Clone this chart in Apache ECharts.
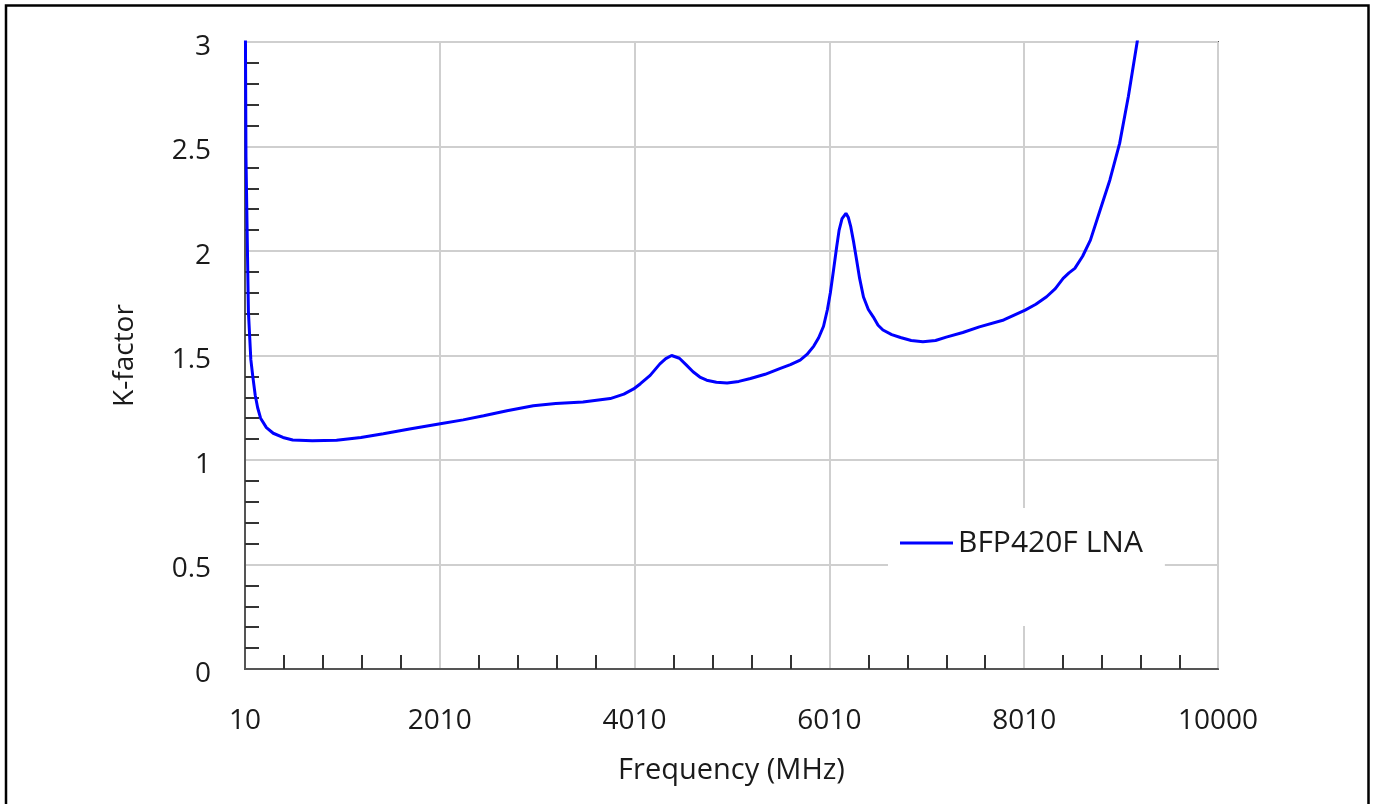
<!DOCTYPE html>
<html>
<head>
<meta charset="utf-8">
<script src="https://cdn.jsdelivr.net/npm/echarts@6/dist/echarts.min.js"></script>
<style>
html,body{margin:0;padding:0;background:#fff;}
#chart{width:1375px;height:804px;}
</style>
</head>
<body>
<div id="chart"></div>
<script>
const seriesName = 'BFP420F LNA';
const xAxisName = 'Frequency (MHz)';
const yAxisName = 'K-factor';

const freq = [10, 20, 45, 70, 90, 115, 140, 170, 230, 300, 400, 500, 700, 950, 1200, 1430, 1700, 2000, 2250, 2460, 2700, 2970, 3200, 3480, 3760, 3900, 4000, 4070, 4170, 4270, 4330, 4390, 4470, 4540, 4610, 4680, 4750, 4850, 4960, 5080, 5200, 5350, 5500, 5610, 5710, 5780, 5850, 5900, 5950, 5990, 6020, 6050, 6085, 6110, 6140, 6180, 6205, 6230, 6260, 6290, 6320, 6360, 6410, 6460, 6510, 6560, 6650, 6740, 6850, 6970, 7100, 7210, 7380, 7550, 7800, 8020, 8130, 8240, 8330, 8410, 8470, 8530, 8610, 8690, 8790, 8890, 8990, 9080, 9170, 9250];

const kFactor = [3.5, 2.45, 1.71, 1.48, 1.40, 1.31, 1.25, 1.20, 1.155, 1.128, 1.108, 1.096, 1.092, 1.094, 1.108, 1.126, 1.148, 1.172, 1.192, 1.212, 1.236, 1.26, 1.27, 1.278, 1.294, 1.315, 1.34, 1.365, 1.405, 1.46, 1.485, 1.50, 1.487, 1.455, 1.422, 1.397, 1.382, 1.372, 1.368, 1.376, 1.39, 1.41, 1.437, 1.456, 1.478, 1.505, 1.545, 1.585, 1.64, 1.72, 1.80, 1.90, 2.02, 2.10, 2.155, 2.18, 2.16, 2.115, 2.04, 1.956, 1.87, 1.78, 1.72, 1.685, 1.645, 1.622, 1.60, 1.586, 1.572, 1.566, 1.572, 1.588, 1.61, 1.637, 1.67, 1.717, 1.745, 1.781, 1.82, 1.869, 1.895, 1.917, 1.975, 2.052, 2.196, 2.34, 2.515, 2.74, 3.0, 3.25];

const xMin = 10, xMax = 10000, xInterval = 2000;
const yMin = 0, yMax = 3, yInterval = 0.5;

const data = freq.map((f, i) => [f, kFactor[i]]);

const FONT = '"Open Sans", "Noto Sans", sans-serif';
const TXT = '#1a1a1a';

const chart = echarts.init(document.getElementById('chart'), null, {renderer: 'canvas'});
chart.setOption({
  animation: false,
  backgroundColor: '#fff',
  textStyle: {fontFamily: FONT},
  graphic: [{
    type: 'rect',
    silent: true,
    shape: {x: 6, y: 5.5, width: 1362.5, height: 900},
    style: {fill: 'none', stroke: '#000', lineWidth: 2.5},
    z: 100
  }],
  grid: {
    left: 245, top: 42, right: 157, bottom: 135,
    show: true, borderColor: '#555', borderWidth: 2, backgroundColor: 'transparent'
  },
  legend: {
    left: 888, top: 508,
    padding: [20, 22, 68, 12],
    backgroundColor: '#fff',
    itemWidth: 53, itemHeight: 14,
    icon: 'path://M0,6 L53,6 L53,9 L0,9 Z',
    textStyle: {fontFamily: FONT, fontSize: 30, color: TXT},
    data: [seriesName]
  },
  xAxis: {
    type: 'value', min: xMin, max: xMax, interval: xInterval,
    name: xAxisName, nameLocation: 'middle', nameGap: 87,
    nameTextStyle: {fontFamily: FONT, fontSize: 29, color: TXT},
    axisLine: {show: true, lineStyle: {color: '#555', width: 2}},
    axisTick: {show: false, inside: true},
    minorTick: {show: true, splitNumber: 5, length: 14, lineStyle: {color: '#333', width: 2}},
    axisLabel: {fontFamily: FONT, fontSize: 28, color: TXT, margin: 38,
      showMinLabel: true, showMaxLabel: true,
      formatter: function (v) { return String(v); }},
    splitLine: {show: true, lineStyle: {color: '#cfcfcf', width: 2}}
  },
  yAxis: {
    type: 'value', min: yMin, max: yMax, interval: yInterval,
    name: yAxisName, nameLocation: 'middle', nameGap: 106,
    nameTextStyle: {fontFamily: FONT, fontSize: 28, color: TXT},
    axisLine: {show: true, lineStyle: {color: '#555', width: 2}},
    axisTick: {show: false, inside: true},
    minorTick: {show: true, splitNumber: 5, length: 14, lineStyle: {color: '#333', width: 2}},
    axisLabel: {fontFamily: FONT, fontSize: 28, color: TXT, margin: 34,
      verticalAlign: 'top', lineHeight: 28, padding: [-9, 0, 0, 0],
      formatter: function (v) { return String(v); }},
    splitLine: {show: true, lineStyle: {color: '#cfcfcf', width: 2}}
  },
  series: [{
    name: seriesName,
    type: 'line',
    data: data,
    symbol: 'none',
    smooth: false,
    clip: true,
    lineStyle: {color: '#0000ff', width: 3},
    itemStyle: {color: '#0000ff'}
  }]
});
</script>
</body>
</html>
